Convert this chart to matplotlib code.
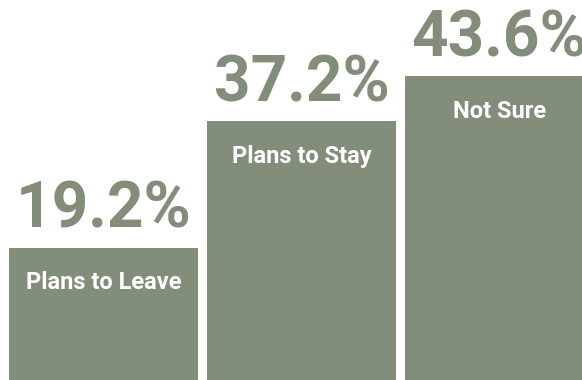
import matplotlib.pyplot as plt
from matplotlib.transforms import offset_copy

categories = ["Plans to Leave", "Plans to Stay", "Not Sure"]
shares = [19.2, 37.2, 43.6]
pct_labels = ["19.2%", "37.2%", "43.6%"]

bar_color = "#828e79"

plt.rcParams["font.family"] = ["Roboto", "DejaVu Sans"]

fig = plt.figure(figsize=(5.82, 3.80), dpi=100)
ax = fig.add_axes([0, 0, 1, 1])

x = list(range(len(categories)))
ax.bar(x, shares, width=0.955, color=bar_color, linewidth=0)

ax.set_xlim(-0.523, 2.417)
ax.set_ylim(0.38, 54.44)
ax.axis("off")

# value above each bar, category name just inside the top of the bar
above = offset_copy(ax.transData, fig=fig, x=0, y=14.4, units="points")
below = offset_copy(ax.transData, fig=fig, x=0, y=-30, units="points")

for xi, val, pct, cat in zip(x, shares, pct_labels, categories):
    ax.text(xi, val, pct, transform=above, ha="center", va="baseline",
            fontsize=46, fontweight="bold", color=bar_color, clip_on=False)
    ax.text(xi, val, cat, transform=below, ha="center", va="baseline",
            fontsize=17, fontweight="bold", color="white")

fig.savefig("out.png", dpi=100)
